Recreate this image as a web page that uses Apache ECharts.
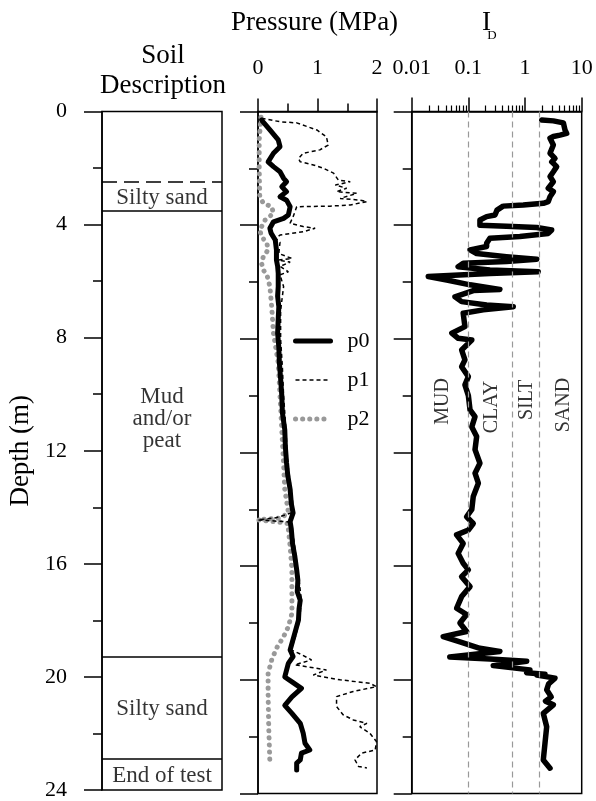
<!DOCTYPE html>
<html>
<head>
<meta charset="utf-8">
<script src="https://cdn.jsdelivr.net/npm/echarts@6/dist/echarts.min.js"></script>
<style>html,body{margin:0;padding:0;background:#fff;}#c{width:596px;height:801px;}</style>
</head>
<body>
<div id="c"></div>
<script>
// ---------- data ----------
var depthTicks = [0, 4, 8, 12, 16, 20, 24];
var pressureTicks = [0, 1, 2];
var idTicks = [0.01, 0.1, 1, 10];
var idMinorTicks = [0.02,0.03,0.04,0.05,0.06,0.07,0.08,0.09,0.2,0.3,0.4,0.5,0.6,0.7,0.8,0.9,2,3,4,5,6,7,8,9];
var idBoundaries = [0.1, 0.6, 1.8];
var idZoneNames = ['MUD', 'CLAY', 'SILT', 'SAND'];
var idZoneX = [0.0356, 0.258, 1.07, 4.73];
var idZoneDepth = [10.2, 10.4, 10.15, 10.33];

var soilBoundaryDashed = [2.5];
var soilBoundarySolid = [3.5, 19.3, 22.9];
var soilNames = ['Silty sand', 'Mud\nand/or\npeat', 'Silty sand', 'End of test'];
var soilNameDepth = [3.05, 10.89, 21.13, 23.5];

var p0Depth = [0.3,0.65,1.0,1.24,1.47,1.77,1.94,2.12,2.35,2.47,2.65,2.82,3.0,3.12,3.35,3.64,3.76,3.88,4.11,4.28,4.52,4.87,5.23,5.45,5.69,6.16,6.5,6.87,7.3,7.8,8.3,8.85,9.4,10.0,10.6,11.2,11.8,12.37,12.8,13.3,13.8,14.13,14.43,14.7,15.2,15.67,16.13,16.5,16.9,17.2,17.5,17.9,18.35,18.95,19.18,19.42,19.9,20.1,20.3,20.6,20.9,21.18,21.53,21.88,22.23,22.47,22.58,22.82,22.93,23.17];
var p0Val   = [0.06,0.2,0.34,0.37,0.26,0.17,0.26,0.37,0.43,0.48,0.40,0.48,0.37,0.48,0.54,0.51,0.43,0.26,0.2,0.22,0.29,0.31,0.31,0.33,0.34,0.34,0.33,0.35,0.34,0.33,0.35,0.36,0.38,0.40,0.41,0.45,0.46,0.48,0.5,0.54,0.56,0.59,0.54,0.56,0.58,0.62,0.65,0.67,0.66,0.71,0.69,0.68,0.62,0.54,0.59,0.51,0.45,0.59,0.73,0.57,0.45,0.57,0.71,0.76,0.79,0.87,0.73,0.71,0.65,0.65];

var p1Depth = [0.24,0.36,0.4,0.65,0.89,1.18,1.35,1.47,1.65,1.77,1.88,2.0,2.17,2.41,2.47,2.59,2.7,2.82,2.88,3.06,3.12,3.17,3.29,3.33,3.35,3.53,3.7,3.93,4.05,4.11,4.23,4.35,4.46,4.6,5.0,5.17,5.23,5.3,5.45,5.64,5.75,6.16,7.0,8.0,9.0,10.0,11.2,12.4,13.3,14.1,14.3,14.37,14.45,14.7,15.7,16.5,17.2,17.9,18.4,18.95,19.1,19.3,19.47,19.65,19.83,20.0,20.12,20.24,20.41,20.59,20.94,21.23,21.41,21.53,21.65,21.88,22.17,22.47,22.58,22.82,23.05,23.1];
var p1Val   = [0.06,0.37,0.65,0.99,1.15,1.18,1.04,0.76,0.68,0.71,0.93,1.10,1.27,1.35,1.55,1.30,1.49,1.32,1.66,1.38,1.71,1.83,1.55,1.21,0.65,0.62,0.59,0.54,0.76,0.96,0.76,0.37,0.29,0.37,0.35,0.57,0.34,0.54,0.37,0.51,0.37,0.43,0.38,0.38,0.41,0.43,0.47,0.5,0.56,0.6,0.3,0.0,0.55,0.58,0.64,0.69,0.73,0.70,0.64,0.56,0.72,0.9,0.62,1.15,0.93,1.38,1.88,1.99,1.60,1.32,1.32,1.43,1.60,1.83,1.71,1.88,1.99,1.97,1.74,1.63,1.69,1.83];

var p2Depth = [0.2,1.0,2.0,3.0,3.23,3.35,3.58,3.82,4.17,4.4,4.64,4.87,5.1,5.34,5.58,5.75,6.16,6.87,7.8,8.85,10.0,11.2,12.4,13.3,14.1,14.3,14.37,14.45,14.5,15.3,16.13,16.9,17.66,18.13,18.48,18.89,19.3,19.77,20.5,21.65,22.93];
var p2Val   = [0.05,0.02,0.02,0.03,0.09,0.23,0.26,0.12,0.03,0.06,0.15,0.17,0.09,0.06,0.09,0.15,0.2,0.23,0.26,0.34,0.37,0.40,0.43,0.45,0.51,0.4,0.0,0.35,0.5,0.54,0.57,0.57,0.57,0.51,0.43,0.31,0.23,0.17,0.17,0.18,0.2];

var idDepth = [0.3,0.33,0.4,0.65,0.77,0.83,0.88,0.94,1.18,1.47,1.65,1.77,1.94,2.12,2.29,2.47,2.7,2.82,3.0,3.17,3.23,3.29,3.33,3.47,3.64,3.7,3.82,4.0,4.04,4.08,4.17,4.29,4.4,4.46,4.64,4.75,4.87,5.0,5.11,5.2,5.28,5.34,5.46,5.58,5.64,5.7,5.81,5.93,6.1,6.26,6.3,6.52,6.69,6.81,6.87,6.98,7.1,7.57,7.8,7.98,8.04,8.39,8.74,8.98,9.33,9.62,10.0,10.5,10.74,11.1,11.44,11.9,12.38,12.73,13.08,13.55,14.0,14.26,14.5,14.73,14.9,15.2,15.55,15.9,16.13,16.37,16.72,17.07,17.48,17.7,18.0,18.3,18.48,18.66,18.89,19.0,19.2,19.27,19.35,19.5,19.65,19.75,19.8,19.83,19.94,20.15,20.35,20.6,20.75,20.88,21.18,21.65,22.23,22.82,23.11];
var idVal   = [1.97,3.16,4.75,5.07,5.43,4.14,3.16,2.76,3.16,2.76,3.38,2.96,3.62,3.16,2.76,3.16,2.57,3.16,2.76,2.57,2.1,0.93,0.41,0.32,0.295,0.21,0.16,0.16,0.47,1.61,2.95,2.57,0.81,0.24,0.21,0.21,0.107,0.14,0.47,1.61,0.47,0.081,0.066,0.24,1.71,0.24,0.0196,0.0415,0.107,0.36,0.122,0.058,0.076,0.21,0.62,0.183,0.081,0.087,0.051,0.066,0.115,0.076,0.087,0.076,0.1,0.087,0.1,0.107,0.131,0.115,0.14,0.131,0.16,0.131,0.15,0.122,0.115,0.093,0.122,0.1,0.062,0.081,0.066,0.081,0.1,0.076,0.107,0.076,0.062,0.093,0.071,0.093,0.036,0.071,0.16,0.36,0.047,0.24,1.07,0.275,1.22,1.07,2.25,1.61,3.38,2.6,2.41,2.9,2.3,3.16,2.1,2.41,2.25,2.1,2.76];

// ---------- helpers ----------
function zip(vals, depths) { return vals.map(function (v, i) { return [v, depths[i]]; }); }
var FONT = '"Liberation Serif","Times New Roman",serif';
var NOSYM = { color: 'rgba(0,0,0,0)', borderWidth: 0, opacity: 0 };

var chart = echarts.init(document.getElementById('c'), null, { renderer: 'canvas' });

var gridTop = 111.5, gridH = 682;
function depthAxis(gi, showLabels) {
  return {
    gridIndex: gi, type: 'value', inverse: true, min: 0, max: 24, interval: 4,
    axisLine: { show: true, lineStyle: { color: '#000', width: 1.5 } },
    axisTick: { show: true, length: 18, lineStyle: { color: '#000', width: 1.5 } },
    minorTick: { show: true, splitNumber: 2, length: 9, lineStyle: { color: '#000', width: 1.5 } },
    splitLine: { show: false },
    axisLabel: { show: showLabels, margin: 35, fontSize: 22, fontFamily: FONT, color: '#000',
                 customValues: depthTicks },
    name: showLabels ? 'Depth (m)' : '', nameLocation: 'middle', nameGap: 68, nameRotate: 90,
    nameTextStyle: { fontSize: 27, fontFamily: FONT, color: '#000' }
  };
}

var option = {
  backgroundColor: '#fff',
  animation: false,
  graphic: [
    { type: 'text', x: 163, y: 70.5, style: { text: 'Soil\nDescription', align: 'center', verticalAlign: 'middle', lineHeight: 30, fontSize: 27, fontFamily: FONT, fill: '#000' } },
    { type: 'text', x: 314.5, y: 22.5, style: { text: 'Pressure (MPa)', align: 'center', verticalAlign: 'middle', fontSize: 27, fontFamily: FONT, fill: '#000' } },
    { type: 'text', x: 486.5, y: 22.5, style: { text: 'I', align: 'center', verticalAlign: 'middle', fontSize: 27, fontFamily: FONT, fill: '#000' } },
    { type: 'text', x: 492, y: 35.5, style: { text: 'D', align: 'center', verticalAlign: 'middle', fontSize: 13, fontFamily: FONT, fill: '#000' } }
  ],
  grid: [
    { left: 102, top: gridTop, width: 120, height: gridH, show: true, borderColor: '#000', borderWidth: 1.5, backgroundColor: 'transparent' },
    { left: 258, top: gridTop, width: 119, height: gridH, show: true, borderColor: '#000', borderWidth: 1.5, backgroundColor: 'transparent' },
    { left: 411.7, top: gridTop, width: 170, height: gridH, show: true, borderColor: '#000', borderWidth: 1.5, backgroundColor: 'transparent' }
  ],
  xAxis: [
    { gridIndex: 0, type: 'value', min: 0, max: 1, position: 'top', show: false },
    { gridIndex: 1, type: 'value', min: 0, max: 2, interval: 1, position: 'top',
      axisLine: { show: true, lineStyle: { color: '#000', width: 1.5 } },
      axisTick: { show: true, length: 13, lineStyle: { color: '#000', width: 1.5 } },
      minorTick: { show: true, splitNumber: 2, length: 8, lineStyle: { color: '#000', width: 1.5 } },
      splitLine: { show: false },
      axisLabel: { margin: 32, fontSize: 22, fontFamily: FONT, color: '#000', customValues: pressureTicks } },
    { gridIndex: 2, type: 'log', logBase: 10, min: 0.01, max: 10, position: 'top',
      axisLine: { show: true, lineStyle: { color: '#000', width: 1.5 } },
      axisTick: { show: true, length: 14, lineStyle: { color: '#000', width: 1.5 } },
      splitLine: { show: false },
      axisLabel: { margin: 32, fontSize: 22, fontFamily: FONT, color: '#000',
                   formatter: function (v) { return String(+v.toPrecision(3)); } } },
    { gridIndex: 2, type: 'log', logBase: 10, min: 0.01, max: 10, position: 'top',
      axisLine: { show: false },
      axisTick: { show: true, length: 6, customValues: idMinorTicks, lineStyle: { color: '#000', width: 1.2 } },
      axisLabel: { show: false }, splitLine: { show: false } }
  ],
  yAxis: [depthAxis(0, true), depthAxis(1, false), depthAxis(2, false)],
  legend: {
    data: ['p0', 'p1', 'p2'],
    orient: 'vertical', left: 288, top: 325,
    itemWidth: 35, itemHeight: 22, itemGap: 17,
    lineStyle: { width: 'inherit' },
    itemStyle: { opacity: 0 },
    textStyle: { fontSize: 22, fontFamily: FONT, color: '#000', padding: [0, 0, 0, 12] }
  },
  series: [
    { name: 'soil', type: 'scatter', xAxisIndex: 0, yAxisIndex: 0, symbolSize: 0, silent: true,
      data: soilNames.map(function (n, i) { return [0.5, soilNameDepth[i], n]; }),
      label: { show: true, position: 'inside', formatter: function (p) { return p.value[2]; },
               fontSize: 23, lineHeight: 22, fontFamily: FONT, color: '#000', align: 'center', verticalAlign: 'middle' },
      markLine: { silent: true, symbol: 'none', label: { show: false },
        data: soilBoundaryDashed.map(function (d) { return { yAxis: d, lineStyle: { type: [15, 7], color: '#000', width: 1.5 } }; })
          .concat(soilBoundarySolid.map(function (d) { return { yAxis: d, lineStyle: { type: 'solid', color: '#000', width: 1.5 } }; })) } },
    { name: 'p2', type: 'line', xAxisIndex: 1, yAxisIndex: 1, data: zip(p2Val, p2Depth), symbol: 'none',
      lineStyle: { color: '#999', width: 5, type: [0.1, 7], cap: 'round' }, itemStyle: NOSYM },
    { name: 'p1', type: 'line', xAxisIndex: 1, yAxisIndex: 1, data: zip(p1Val, p1Depth), symbol: 'none',
      lineStyle: { color: '#000', width: 1.5, type: [4, 3] }, itemStyle: NOSYM },
    { name: 'p0', type: 'line', xAxisIndex: 1, yAxisIndex: 1, data: zip(p0Val, p0Depth), symbol: 'none',
      lineStyle: { color: '#000', width: 5, join: 'round', cap: 'round' }, itemStyle: NOSYM },
    { name: 'ID', type: 'line', xAxisIndex: 2, yAxisIndex: 2, data: zip(idVal, idDepth), symbol: 'none',
      lineStyle: { color: '#000', width: 5.5, join: 'round', cap: 'round' }, itemStyle: { color: '#000' }, z: 3,
      markLine: { silent: true, symbol: 'none', label: { show: false },
        lineStyle: { type: [6, 4], color: '#999', width: 1.2 },
        data: idBoundaries.map(function (v) { return { xAxis: v }; }) } },
    { name: 'zones', type: 'scatter', xAxisIndex: 2, yAxisIndex: 2, symbolSize: 0, silent: true,
      data: idZoneNames.map(function (n, i) { return [idZoneX[i], idZoneDepth[i], n]; }),
      label: { show: true, position: 'inside', rotate: 90, formatter: function (p) { return p.value[2]; },
               fontSize: 20, fontFamily: FONT, color: '#000' } }
  ]
};
chart.setOption(option);
</script>
</body>
</html>
